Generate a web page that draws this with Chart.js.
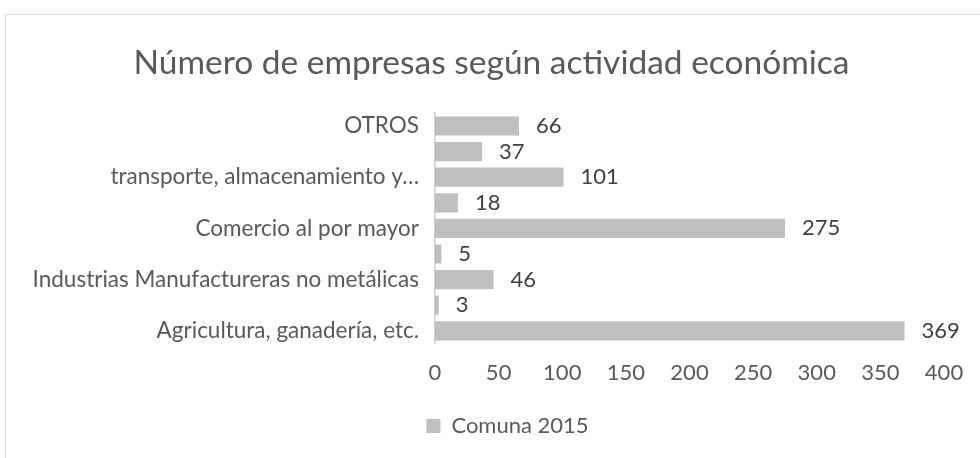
<!DOCTYPE html>
<html>
<head>
<meta charset="utf-8">
<script src="https://cdn.jsdelivr.net/npm/chart.js@4"></script>
<style>
  html, body { margin: 0; padding: 0; background: #fff; }
  #wrap { position: relative; width: 980px; height: 458px; }
</style>
</head>
<body>
<div id="wrap"><canvas id="empresasChart"></canvas></div>
<script>
// categorías de arriba hacia abajo (las etiquetas en blanco no se ven en el original)
const categorias = [
    'OTROS',
    '',
    'transporte, almacenamiento y…',
    '',
    'Comercio al por mayor',
    '',
    'Industrias Manufactureras no metálicas',
    '',
    'Agricultura, ganadería, etc.'
];
const comuna2015 = [66, 37, 101, 18, 275, 5, 46, 3, 369];
const serieNombre = 'Comuna 2015';
const tituloTexto = 'Número de empresas según actividad económica';

const FONT = 'Lato';
const gris = '#595959';
const TXT = 22;

// marco del área del gráfico
const marcoPlugin = {
    id: 'marco',
    beforeDraw: (chart) => {
        const ctx = chart.ctx;
        ctx.save();
        ctx.strokeStyle = '#d9d9d9';
        ctx.lineWidth = 1;
        ctx.beginPath();
        ctx.moveTo(5.5, chart.height);
        ctx.lineTo(5.5, 14.5);
        ctx.lineTo(chart.width, 14.5);
        ctx.stroke();
        ctx.restore();
    }
};

// etiquetas de valor al final de cada barra
const etiquetasPlugin = {
    id: 'etiquetas',
    afterDatasetsDraw: (chart) => {
        const ctx = chart.ctx;
        const meta = chart.getDatasetMeta(0);
        ctx.save();
        ctx.font = TXT + 'px ' + FONT;
        ctx.fillStyle = '#404040';
        ctx.textAlign = 'left';
        ctx.textBaseline = 'middle';
        meta.data.forEach((bar, i) => {
            ctx.fillText(String(comuna2015[i]), bar.x + 17, bar.y);
        });
        ctx.restore();
    }
};

// mover título y leyenda a la derecha, como en el original
const desplazarPlugin = {
    id: 'desplazar',
    afterUpdate: (chart) => {
        const t = chart.titleBlock;
        if (t) {
            t.left += 17;
            t.right += 17;
        }
        const lg = chart.legend;
        if (lg) {
            lg.left += 33;
            lg.right += 33;
            lg.adjustHitBoxes();
        }
    }
};

const ctx = document.getElementById('empresasChart').getContext('2d');
new Chart(ctx, {
    type: 'bar',
    data: {
        labels: categorias,
        datasets: [{
            label: serieNombre,
            data: comuna2015,
            backgroundColor: '#bfbfbf',
            borderWidth: 0,
            barPercentage: 0.75,
            categoryPercentage: 1.0
        }]
    },
    options: {
        indexAxis: 'y',
        responsive: true,
        maintainAspectRatio: false,
        animation: false,
        layout: {
            padding: { left: 5, right: 36, top: 14, bottom: 11 }
        },
        scales: {
            x: {
                min: 0,
                max: 400,
                ticks: {
                    stepSize: 50,
                    color: gris,
                    font: { family: FONT, size: TXT },
                    padding: 16
                },
                grid: { display: false, drawTicks: false, tickLength: 0 },
                border: { display: false }
            },
            y: {
                afterFit: (scale) => { scale.width = 430; },
                ticks: {
                    autoSkip: false,
                    color: gris,
                    font: { family: FONT, size: 22.5 },
                    padding: 16
                },
                grid: { display: false, drawTicks: false, tickLength: 0 },
                border: { display: true, color: '#d0d0d0', width: 1.5 }
            }
        },
        plugins: {
            title: {
                display: true,
                text: tituloTexto,
                color: gris,
                font: { family: FONT, size: 33.5, weight: 'normal' },
                padding: { top: 29, bottom: 30 }
            },
            legend: {
                display: true,
                position: 'bottom',
                labels: {
                    color: gris,
                    font: { family: FONT, size: TXT },
                    boxWidth: 14,
                    boxHeight: 14,
                    padding: 13
                }
            },
            tooltip: { enabled: false }
        }
    },
    plugins: [marcoPlugin, etiquetasPlugin, desplazarPlugin]
});
</script>
</body>
</html>
